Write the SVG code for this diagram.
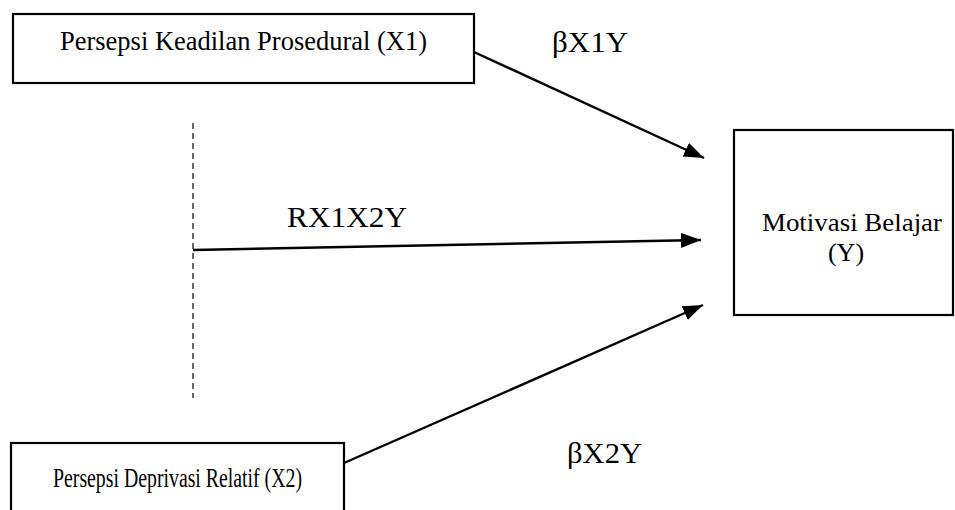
<svg xmlns="http://www.w3.org/2000/svg" width="955" height="510" viewBox="0 0 955 510">
<style>
.box{fill:#fff;stroke:#000;stroke-width:2.2}
.t{font-family:"Liberation Serif","Times New Roman",serif;fill:#000}
.nt{font-size:28px}
.yt{font-size:26px}
.lb{font-size:30px}
.c{stroke:#000;stroke-width:2.4;fill:none}
</style>
<defs>
<marker id="ah" viewBox="0 0 20 15" refX="20" refY="7.5" markerWidth="20" markerHeight="15" markerUnits="userSpaceOnUse" orient="auto">
<path d="M0,0 L20,7.5 L0,15 z" fill="#000"/>
</marker>
</defs>
<rect width="955" height="510" fill="#fff"/>
<g id="connectors">
<line x1="193" y1="123" x2="193" y2="398" stroke="#000" stroke-width="1.2" stroke-dasharray="6,4"/>
<line class="c" x1="474" y1="52" x2="704" y2="158" marker-end="url(#ah)"/>
<line class="c" x1="193" y1="250" x2="701" y2="240" marker-end="url(#ah)"/>
<line class="c" x1="344" y1="463" x2="703" y2="305" marker-end="url(#ah)"/>
<text class="t lb" x="552" y="52" textLength="76" lengthAdjust="spacingAndGlyphs">βX1Y</text>
<text class="t lb" x="287" y="227" textLength="120" lengthAdjust="spacingAndGlyphs">RX1X2Y</text>
<text class="t lb" x="567" y="463" textLength="75" lengthAdjust="spacingAndGlyphs">βX2Y</text>
</g>
<g id="node-x1">
<rect class="box" x="13" y="14" width="461" height="69"/>
<text class="t nt" x="60" y="50" textLength="367" lengthAdjust="spacingAndGlyphs">Persepsi Keadilan Prosedural (X1)</text>
</g>
<g id="node-x2">
<rect class="box" x="11" y="443" width="333" height="80"/>
<text class="t nt" x="53" y="487" textLength="249" lengthAdjust="spacingAndGlyphs" style="font-size:27px">Persepsi Deprivasi Relatif (X2)</text>
</g>
<g id="node-y">
<rect class="box" x="734" y="130" width="219" height="185"/>
<text class="t yt" x="762" y="231" textLength="180" lengthAdjust="spacingAndGlyphs">Motivasi Belajar</text>
<text class="t yt" x="846" y="261" text-anchor="middle">(Y)</text>
</g>
</svg>
